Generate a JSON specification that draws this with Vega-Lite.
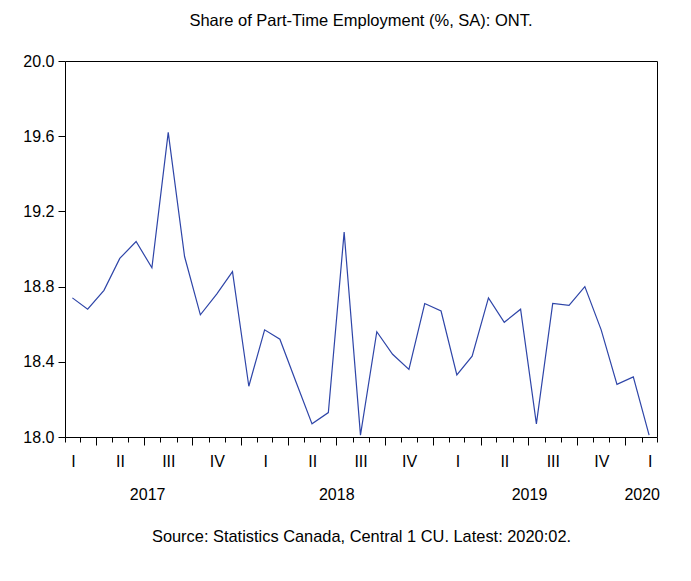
{
  "$schema": "https://vega.github.io/schema/vega-lite/v6.json",
  "width": 592,
  "height": 376,
  "autosize": {"type": "none"},
  "padding": {"left": 65, "top": 61, "right": 34, "bottom": 144},
  "background": "white",
  "title": {
    "text": "Share of Part-Time Employment (%, SA): ONT.",
    "font": "Liberation Sans",
    "fontSize": 16.5,
    "fontWeight": "normal",
    "color": "black",
    "anchor": "middle",
    "offset": 24
  },
  "config": {
    "view": {"stroke": "black", "strokeWidth": 1},
    "axis": {
      "grid": false,
      "domain": false,
      "labelFont": "Liberation Sans",
      "labelFontSize": 16,
      "labelColor": "black",
      "tickColor": "black",
      "titleFont": "Liberation Sans",
      "titleFontSize": 16.4,
      "titleFontWeight": "normal",
      "titleColor": "black"
    }
  },
  "data": {
    "values": [
      {"date": "2017-02-15", "value": 18.74},
      {"date": "2017-03-16", "value": 18.68},
      {"date": "2017-04-16", "value": 18.78},
      {"date": "2017-05-16", "value": 18.95},
      {"date": "2017-06-16", "value": 19.04},
      {"date": "2017-07-16", "value": 18.90},
      {"date": "2017-08-16", "value": 19.62},
      {"date": "2017-09-16", "value": 18.96},
      {"date": "2017-10-16", "value": 18.65},
      {"date": "2017-11-16", "value": 18.76},
      {"date": "2017-12-16", "value": 18.88},
      {"date": "2018-01-16", "value": 18.27},
      {"date": "2018-02-15", "value": 18.57},
      {"date": "2018-03-16", "value": 18.52},
      {"date": "2018-04-16", "value": 18.29},
      {"date": "2018-05-16", "value": 18.07},
      {"date": "2018-06-16", "value": 18.13},
      {"date": "2018-07-16", "value": 19.09},
      {"date": "2018-08-16", "value": 18.01},
      {"date": "2018-09-16", "value": 18.56},
      {"date": "2018-10-16", "value": 18.44},
      {"date": "2018-11-16", "value": 18.36},
      {"date": "2018-12-16", "value": 18.71},
      {"date": "2019-01-16", "value": 18.67},
      {"date": "2019-02-15", "value": 18.33},
      {"date": "2019-03-16", "value": 18.43},
      {"date": "2019-04-16", "value": 18.74},
      {"date": "2019-05-16", "value": 18.61},
      {"date": "2019-06-16", "value": 18.68},
      {"date": "2019-07-16", "value": 18.07},
      {"date": "2019-08-16", "value": 18.71},
      {"date": "2019-09-16", "value": 18.70},
      {"date": "2019-10-16", "value": 18.80},
      {"date": "2019-11-16", "value": 18.57},
      {"date": "2019-12-16", "value": 18.28},
      {"date": "2020-01-16", "value": 18.32},
      {"date": "2020-02-15", "value": 18.01}
    ]
  },
  "layer": [
    {
      "mark": {"type": "line", "color": "#2E45A8", "strokeWidth": 1.2},
      "encoding": {
        "x": {
          "field": "date",
          "type": "temporal",
          "scale": {
            "type": "utc",
            "domain": [
              {"year": 2017, "month": 2, "date": 1, "utc": true},
              {"year": 2020, "month": 3, "date": 1, "utc": true}
            ],
            "nice": false
          },
          "axis": {
            "orient": "bottom",
            "title": null,
            "tickCount": {"interval": "month", "step": 1},
            "tickSize": 5,
            "labelExpr": "utcmonth(datum.value) == 1 ? 'I' : utcmonth(datum.value) == 4 ? 'II' : utcmonth(datum.value) == 7 ? 'III' : utcmonth(datum.value) == 10 ? 'IV' : ''",
            "labelOffset": 8,
            "labelPadding": 11,
            "labelFlush": false,
            "labelOverlap": false
          }
        },
        "y": {
          "field": "value",
          "type": "quantitative",
          "scale": {"domain": [18, 20], "nice": false, "zero": false},
          "axis": {
            "title": null,
            "values": [18, 18.4, 18.8, 19.2, 19.6, 20],
            "format": ".1f",
            "tickSize": 7,
            "labelPadding": 4
          }
        }
      }
    },
    {
      "mark": {"type": "line", "opacity": 0},
      "encoding": {
        "x": {
          "field": "date",
          "type": "temporal",
          "axis": {
            "orient": "bottom",
            "title": null,
            "tickCount": {"interval": "month", "step": 3},
            "tickSize": 8,
            "labels": false
          }
        },
        "y": {"field": "value", "type": "quantitative"}
      }
    },
    {
      "mark": {"type": "line", "opacity": 0},
      "encoding": {
        "x": {
          "field": "date",
          "type": "temporal",
          "axis": {
            "orient": "bottom",
            "title": "Source: Statistics Canada, Central 1 CU. Latest: 2020:02.",
            "titlePadding": 26,
            "ticks": false,
            "values": [
              {"year": 2017, "month": 7, "date": 7, "utc": true},
              {"year": 2018, "month": 7, "date": 1, "utc": true},
              {"year": 2019, "month": 7, "date": 2, "utc": true},
              {"year": 2020, "month": 2, "date": 1, "utc": true}
            ],
            "labelExpr": "'' + utcyear(datum.value)",
            "labelPadding": 49,
            "labelFlush": false,
            "labelOverlap": false
          }
        },
        "y": {"field": "value", "type": "quantitative"}
      }
    }
  ],
  "resolve": {"axis": {"x": "independent"}}
}
